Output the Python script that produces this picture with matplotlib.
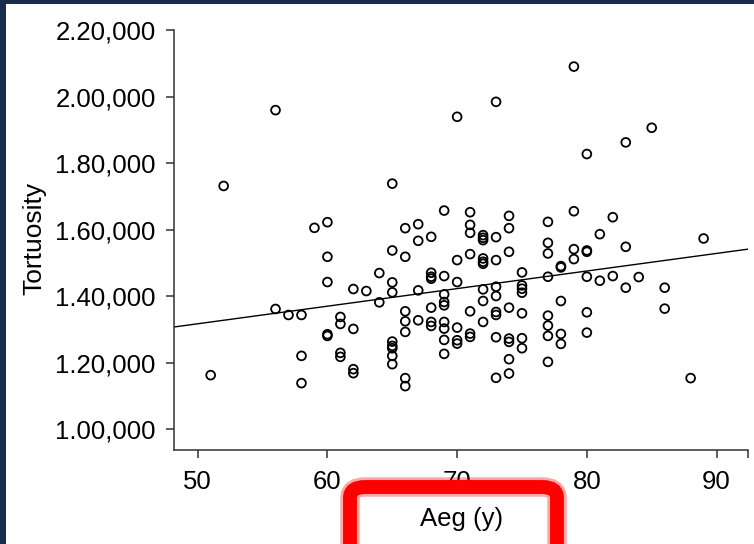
import numpy as np
import matplotlib.pyplot as plt
from matplotlib.patches import Rectangle, FancyBboxPatch

plt.rcParams['font.family'] = ['Liberation Sans', 'DejaVu Sans']

# Datos (edad, tortuosidad)
age = ([51, 52, 56, 56, 57, 58, 58, 58, 59]
       + [60] * 5 + [61] * 4 + [62] * 4 + [63] + [64] * 2
       + [65] * 9 + [66] * 7 + [67] * 4 + [68] * 7 + [69] * 9
       + [70] * 6 + [71] * 7 + [72] * 9 + [73] * 9 + [74] * 8
       + [75] * 7 + [77] * 8 + [78] * 5 + [79] * 4 + [80] * 6
       + [81] * 2 + [82] * 2 + [83] * 3 + [84, 85, 86, 86, 88, 89])

tortuosity = [
    1.162, 1.731, 1.959, 1.361, 1.343, 1.343, 1.220, 1.138, 1.605,
    1.622, 1.518, 1.442, 1.285, 1.280,                              # 60
    1.337, 1.316, 1.229, 1.217,                                     # 61
    1.421, 1.301, 1.180, 1.168,                                     # 62
    1.415,                                                          # 63
    1.469, 1.381,                                                   # 64
    1.738, 1.537, 1.441, 1.411, 1.263, 1.250, 1.243, 1.220, 1.195,  # 65
    1.604, 1.518, 1.354, 1.324, 1.292, 1.153, 1.129,                # 66
    1.616, 1.566, 1.417, 1.327,                                     # 67
    1.578, 1.470, 1.458, 1.452, 1.365, 1.322, 1.310,                # 68
    1.657, 1.460, 1.405, 1.382, 1.372, 1.322, 1.302, 1.268, 1.226,  # 69
    1.939, 1.508, 1.442, 1.305, 1.267, 1.257,                       # 70
    1.652, 1.614, 1.590, 1.526, 1.354, 1.287, 1.277,                # 71
    1.583, 1.575, 1.568, 1.513, 1.503, 1.497, 1.420, 1.385, 1.322,  # 72
    1.984, 1.577, 1.508, 1.428, 1.400, 1.352, 1.343, 1.276, 1.154,  # 73
    1.641, 1.604, 1.533, 1.365, 1.272, 1.262, 1.210, 1.167,         # 74
    1.471, 1.432, 1.422, 1.410, 1.348, 1.273, 1.243,                # 75
    1.623, 1.560, 1.528, 1.458, 1.341, 1.311, 1.280, 1.202,         # 77
    1.490, 1.486, 1.385, 1.286, 1.256,                              # 78
    2.090, 1.655, 1.541, 1.511,                                     # 79
    1.827, 1.537, 1.533, 1.458, 1.351, 1.290,                       # 80
    1.586, 1.446,                                                   # 81
    1.637, 1.460,                                                   # 82
    1.862, 1.548, 1.425,                                            # 83
    1.457, 1.906, 1.425, 1.362, 1.153, 1.573,
]

# recta de ajuste
fit_intercept = 1.052
fit_slope = 0.00529

x_ticks = [50, 60, 70, 80, 90]
y_ticks = [1.00, 1.20, 1.40, 1.60, 1.80, 2.00, 2.20]
x_min, x_max = 48.15, 92.4
y_min, y_max = 0.936, 2.20

navy = '#172d4b'
fig = plt.figure(figsize=(7.54, 5.44), dpi=100)
fig.patch.set_facecolor('white')
# marco azul oscuro (izquierda y arriba)
fig.patches.append(Rectangle((0, 0), 6 / 754, 1, transform=fig.transFigure,
                             facecolor=navy, edgecolor='none'))
fig.patches.append(Rectangle((0, 1 - 4 / 544), 1, 4 / 544, transform=fig.transFigure,
                             facecolor=navy, edgecolor='none'))

ax = fig.add_axes([173.7 / 754, 1 - 450.3 / 544, 574 / 754, 420.3 / 544])
ax.set_facecolor('none')

ax.scatter(age, tortuosity, s=40, facecolors='none', edgecolors='black',
           linewidths=1.3, zorder=3)

x_line = np.array([x_min, x_max])
ax.plot(x_line, fit_intercept + fit_slope * x_line, color='black', lw=1.0, zorder=2)

ax.set_xlim(x_min, x_max)
ax.set_ylim(y_min, y_max)
ax.set_xticks(x_ticks + [x_max])
ax.set_xticklabels([str(t) for t in x_ticks] + [''])
ax.set_yticks(y_ticks)
ax.set_yticklabels([f'{t:.2f},000' for t in y_ticks])

for side in ['top', 'right']:
    ax.spines[side].set_visible(False)
for side in ['left', 'bottom']:
    ax.spines[side].set_color('#333333')
    ax.spines[side].set_linewidth(1.1)

ax.tick_params(axis='both', direction='out', length=6, width=1.1,
               color='#333333', labelsize=18.5, labelcolor='black')
ax.tick_params(axis='y', pad=7)
ax.tick_params(axis='x', pad=8)

fig.text(34 / 754, 1 - 238 / 544, 'Tortuosity', rotation=90, ha='center',
         va='center', fontsize=19, color='black')
fig.text(462 / 754, 1 - 519 / 544, 'Aeg (y)', ha='center', va='center',
         fontsize=18.5, color='black')

# recuadro rojo alrededor de la etiqueta del eje x
for lw, alpha in [(14, 0.35), (10, 1.0)]:
    fig.patches.append(FancyBboxPatch(
        (350 / 754, -0.05), 207 / 754, 0.05 + (544 - 487) / 544,
        boxstyle='round,pad=0,rounding_size=0.02', transform=fig.transFigure,
        facecolor='none', edgecolor='#ff0000', linewidth=lw, alpha=alpha,
        zorder=5))

fig.savefig('out.png', dpi=100, facecolor=fig.get_facecolor())
